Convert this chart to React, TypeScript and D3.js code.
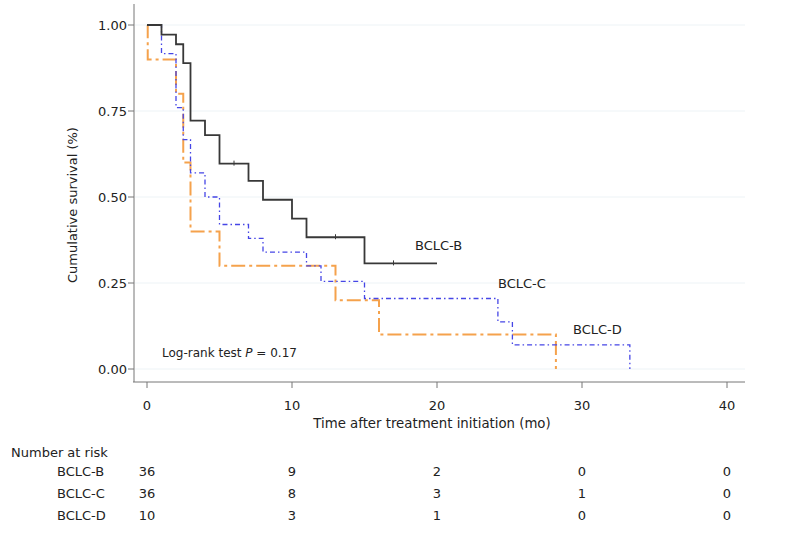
import React from "react";
import * as d3 from "d3";

const timesB = [0, 1, 2, 2.5, 3, 4, 5, 7, 8, 10, 11, 15, 20];
const survB = [1, 0.972, 0.944, 0.889, 0.722, 0.68, 0.597, 0.547, 0.492, 0.437, 0.383, 0.307, 0.307];
const censorB = [6, 13, 17];

const timesC = [0, 1, 2, 2.5, 3, 4, 5, 7, 8, 11, 12, 15, 24.2, 25.2, 33.3];
const survC = [1, 0.917, 0.76, 0.667, 0.57, 0.5, 0.42, 0.38, 0.34, 0.3, 0.255, 0.205, 0.137, 0.07, 0];

const timesD = [0, 0.05, 2, 2.5, 3, 5, 13, 16, 28.2];
const survD = [1, 0.9, 0.8, 0.6, 0.4, 0.3, 0.2, 0.1, 0];

const xTicks = [0, 10, 20, 30, 40];
const yTicks = [0, 0.25, 0.5, 0.75, 1];

const riskGroups = ["BCLC-B", "BCLC-C", "BCLC-D"];
const riskB = [36, 9, 2, 0, 0];
const riskC = [36, 8, 3, 1, 0];
const riskD = [10, 3, 1, 0, 0];

const FONT = "Tahoma, 'DejaVu Sans', Verdana, sans-serif";

export default function App() {
  const x = d3.scaleLinear().domain([0, 40]).range([147, 727]);
  const y = d3.scaleLinear().domain([0, 1]).range([369, 25]);

  const line = d3
    .line<[number, number]>()
    .x((d) => x(d[0]))
    .y((d) => y(d[1]))
    .curve(d3.curveStepAfter);

  const mk = (t: number[], s: number[]) => t.map((v, i) => [v, s[i]] as [number, number]);

  const survAt = (t: number) => {
    let v = 1;
    timesB.forEach((tt, i) => {
      if (tt <= t) v = survB[i];
    });
    return v;
  };

  const risks = [riskB, riskC, riskD];

  return (
    <svg
      width={790}
      height={536}
      style={{ position: "absolute", left: 0, top: 0, background: "#fff" }}
      fontFamily={FONT}
    >
      <rect x={0} y={0} width={790} height={536} fill="#fff" />
      {/* gridlines */}
      {yTicks.map((t) => (
        <line key={"g" + t} x1={135} x2={745} y1={y(t)} y2={y(t)} stroke="#edf3f6" strokeWidth={1} />
      ))}
      {/* axes */}
      <line x1={134} x2={134} y1={4} y2={382} stroke="#777" strokeWidth={1} />
      <line x1={133} x2={745} y1={382} y2={382} stroke="#777" strokeWidth={1} />
      {yTicks.map((t) => (
        <g key={"y" + t}>
          <line x1={128} x2={134} y1={y(t)} y2={y(t)} stroke="#777" />
          <text x={127} y={y(t) + 4.5} textAnchor="end" fontSize={13} fill="#222">
            {t.toFixed(2)}
          </text>
        </g>
      ))}
      {xTicks.map((t) => (
        <g key={"x" + t}>
          <line x1={x(t)} x2={x(t)} y1={382} y2={388} stroke="#777" />
          <text x={x(t)} y={410} textAnchor="middle" fontSize={13} fill="#222">
            {t}
          </text>
        </g>
      ))}
      <text x={432} y={428} textAnchor="middle" fontSize={13.3} fill="#222">
        Time after treatment initiation (mo)
      </text>
      <text
        transform={`translate(77,${205}) rotate(-90)`}
        textAnchor="middle"
        fontSize={13}
        fill="#222"
      >
        Cumulative survival (%)
      </text>

      {/* curves */}
      <path d={line(mk(timesD, survD)) || ""} fill="none" stroke="#f5a24c" strokeWidth={2} strokeDasharray="14,4,3,4" />
      <path d={line(mk(timesC, survC)) || ""} fill="none" stroke="#4646e6" strokeWidth={1.3} strokeDasharray="5,3,1.5,3" />
      <path d={line(mk(timesB, survB)) || ""} fill="none" stroke="#383838" strokeWidth={1.8} />
      {censorB.map((t) => (
        <line key={"c" + t} x1={x(t)} x2={x(t)} y1={y(survAt(t)) - 3} y2={y(survAt(t)) + 2} stroke="#383838" strokeWidth={1} />
      ))}

      {/* labels */}
      <text x={415} y={250} fontSize={13} fill="#222">BCLC-B</text>
      <text x={498} y={288} fontSize={13} fill="#222">BCLC-C</text>
      <text x={573} y={334} fontSize={13} fill="#222">BCLC-D</text>
      <text x={162} y={357} fontSize={12} fill="#222">
        Log-rank test <tspan fontStyle="italic">P</tspan> = 0.17
      </text>

      {/* risk table */}
      <text x={11} y={457} fontSize={13} fill="#222">Number at risk</text>
      {riskGroups.map((g, i) => (
        <g key={g}>
          <text x={57} y={476 + i * 22} fontSize={13} fill="#222">{g}</text>
          {risks[i].map((n, j) => (
            <text key={j} x={x(xTicks[j])} y={476 + i * 22} textAnchor="middle" fontSize={13} fill="#222">
              {n}
            </text>
          ))}
        </g>
      ))}
    </svg>
  );
}
